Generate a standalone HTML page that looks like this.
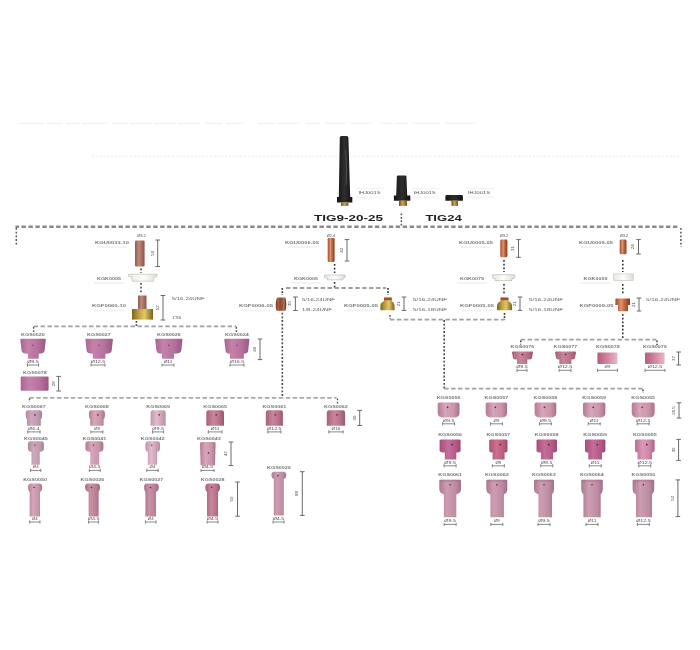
<!DOCTYPE html>
<html><head><meta charset="utf-8"><style>
html,body{margin:0;padding:0;background:#fff;width:700px;height:650px;overflow:hidden}
svg{display:block;font-family:"Liberation Sans",sans-serif;filter:blur(0.35px)}
</style></head><body><svg width="700" height="650" viewBox="0 0 700 650" font-family="Liberation Sans, sans-serif">
<defs>
<linearGradient id="pink" x1="0" x2="1" y1="0" y2="0">
 <stop offset="0" stop-color="#aa6494"/><stop offset="0.3" stop-color="#c482aa"/><stop offset="0.7" stop-color="#b6709c"/><stop offset="1" stop-color="#985886"/>
</linearGradient>
<linearGradient id="pinkL" x1="0" x2="1" y1="0" y2="0">
 <stop offset="0" stop-color="#c494ac"/><stop offset="0.4" stop-color="#e0bccc"/><stop offset="1" stop-color="#bc8ca4"/>
</linearGradient>
<linearGradient id="pinkM" x1="0" x2="1" y1="0" y2="0">
 <stop offset="0" stop-color="#aa6e88"/><stop offset="0.35" stop-color="#c892a6"/><stop offset="0.75" stop-color="#ba7e96"/><stop offset="1" stop-color="#9c6680"/>
</linearGradient>
<linearGradient id="mag" x1="0" x2="1" y1="0" y2="0">
 <stop offset="0" stop-color="#a84c7c"/><stop offset="0.4" stop-color="#c46e9a"/><stop offset="0.75" stop-color="#b65a88"/><stop offset="1" stop-color="#9a4a74"/>
</linearGradient>
<linearGradient id="rose" x1="0" x2="1" y1="0" y2="0">
 <stop offset="0" stop-color="#a86078"/><stop offset="0.4" stop-color="#c8869a"/><stop offset="0.75" stop-color="#b87088"/><stop offset="1" stop-color="#985670"/>
</linearGradient>
<linearGradient id="mauve" x1="0" x2="1" y1="0" y2="0">
 <stop offset="0" stop-color="#ae7890"/><stop offset="0.35" stop-color="#cc9eb2"/><stop offset="0.75" stop-color="#be8ca2"/><stop offset="1" stop-color="#a0708a"/>
</linearGradient>
<linearGradient id="pinkD" x1="0" x2="1" y1="0" y2="0">
 <stop offset="0" stop-color="#b87894"/><stop offset="0.35" stop-color="#d6a6ba"/><stop offset="0.75" stop-color="#c894aa"/><stop offset="1" stop-color="#a8708a"/>
</linearGradient>
<linearGradient id="lav" x1="0" x2="1" y1="0" y2="0">
 <stop offset="0" stop-color="#b08aa2"/><stop offset="0.35" stop-color="#cca8bc"/><stop offset="0.75" stop-color="#c09ab0"/><stop offset="1" stop-color="#a27e96"/>
</linearGradient>
<linearGradient id="magR" x1="0" x2="1" y1="0" y2="0">
 <stop offset="0" stop-color="#b0506e"/><stop offset="0.4" stop-color="#cc7090"/><stop offset="0.75" stop-color="#bc5c7e"/><stop offset="1" stop-color="#a04a68"/>
</linearGradient>
<linearGradient id="magL" x1="0" x2="1" y1="0" y2="0">
 <stop offset="0" stop-color="#bc6c94"/><stop offset="0.4" stop-color="#dc98b8"/><stop offset="0.75" stop-color="#cc84a8"/><stop offset="1" stop-color="#ac6088"/>
</linearGradient>
<linearGradient id="rosy" x1="0" x2="1" y1="0" y2="0">
 <stop offset="0" stop-color="#b45c7a"/><stop offset="0.55" stop-color="#d48aa2"/><stop offset="1" stop-color="#e8b6c6"/>
</linearGradient>
<linearGradient id="copper" x1="0" x2="1" y1="0" y2="0">
 <stop offset="0" stop-color="#9a4c2c"/><stop offset="0.4" stop-color="#e0946a"/><stop offset="0.6" stop-color="#c46c44"/><stop offset="1" stop-color="#843c20"/>
</linearGradient>
<linearGradient id="copperD" x1="0" x2="1" y1="0" y2="0">
 <stop offset="0" stop-color="#7a3c24"/><stop offset="0.3" stop-color="#b06848"/><stop offset="0.5" stop-color="#8a4830"/><stop offset="0.7" stop-color="#c07858"/><stop offset="1" stop-color="#70361e"/>
</linearGradient>
<linearGradient id="copperP" x1="0" x2="1" y1="0" y2="0">
 <stop offset="0" stop-color="#8e5a50"/><stop offset="0.4" stop-color="#c0887a"/><stop offset="1" stop-color="#8a5448"/>
</linearGradient>
<linearGradient id="brass" x1="0" x2="1" y1="0" y2="0">
 <stop offset="0" stop-color="#806420"/><stop offset="0.35" stop-color="#c4a444"/><stop offset="0.6" stop-color="#e0c868"/><stop offset="1" stop-color="#806018"/>
</linearGradient>
<linearGradient id="tip" x1="0" x2="1" y1="0" y2="0">
 <stop offset="0" stop-color="#7a4a18"/><stop offset="0.45" stop-color="#d8a050"/><stop offset="1" stop-color="#805018"/>
</linearGradient>
<linearGradient id="black" x1="0" x2="1" y1="0" y2="0">
 <stop offset="0" stop-color="#141414"/><stop offset="0.5" stop-color="#2e2e2e"/><stop offset="1" stop-color="#121212"/>
</linearGradient>
<linearGradient id="white" x1="0" x2="1" y1="0" y2="0">
 <stop offset="0" stop-color="#e6e6e0"/><stop offset="0.5" stop-color="#fdfdfb"/><stop offset="1" stop-color="#deded8"/>
</linearGradient>
</defs>
<line x1="19" y1="123.4" x2="44" y2="123.4" stroke="#f4f4f4" stroke-width="1.8"/>
<line x1="47" y1="123.4" x2="63" y2="123.4" stroke="#f4f4f4" stroke-width="1.8"/>
<line x1="66" y1="123.4" x2="80" y2="123.4" stroke="#f4f4f4" stroke-width="1.8"/>
<line x1="82" y1="123.4" x2="108" y2="123.4" stroke="#f4f4f4" stroke-width="1.8"/>
<line x1="112" y1="123.4" x2="128" y2="123.4" stroke="#f4f4f4" stroke-width="1.8"/>
<line x1="130" y1="123.4" x2="152" y2="123.4" stroke="#f4f4f4" stroke-width="1.8"/>
<line x1="154" y1="123.4" x2="176" y2="123.4" stroke="#f4f4f4" stroke-width="1.8"/>
<line x1="178" y1="123.4" x2="200" y2="123.4" stroke="#f4f4f4" stroke-width="1.8"/>
<line x1="205" y1="123.4" x2="222" y2="123.4" stroke="#f4f4f4" stroke-width="1.8"/>
<line x1="226" y1="123.4" x2="244" y2="123.4" stroke="#f4f4f4" stroke-width="1.8"/>
<line x1="258" y1="123.4" x2="275" y2="123.4" stroke="#f4f4f4" stroke-width="1.8"/>
<line x1="278" y1="123.4" x2="300" y2="123.4" stroke="#f4f4f4" stroke-width="1.8"/>
<line x1="305" y1="123.4" x2="320" y2="123.4" stroke="#f4f4f4" stroke-width="1.8"/>
<line x1="325" y1="123.4" x2="345" y2="123.4" stroke="#f4f4f4" stroke-width="1.8"/>
<line x1="350" y1="123.4" x2="372" y2="123.4" stroke="#f4f4f4" stroke-width="1.8"/>
<line x1="380" y1="123.4" x2="392" y2="123.4" stroke="#f4f4f4" stroke-width="1.8"/>
<line x1="395" y1="123.4" x2="408" y2="123.4" stroke="#f4f4f4" stroke-width="1.8"/>
<line x1="412" y1="123.4" x2="440" y2="123.4" stroke="#f4f4f4" stroke-width="1.8"/>
<line x1="445" y1="123.4" x2="476" y2="123.4" stroke="#f4f4f4" stroke-width="1.8"/>
<line x1="92" y1="156.3" x2="679" y2="156.3" stroke="#f3f3f3" stroke-width="1.8" stroke-dasharray="2.2 1.6" stroke-dashoffset="0"/>
<path d="M339.8 137.5Q339.8 136 341.5 136H346.7Q348.4 136 348.4 137.5L350.2 197H352.3V202.6H337V197H338.8Z" fill="url(#black)"/>
<path d="M345.6 150Q347 165 346.2 185" stroke="#707070" stroke-width="1" fill="none" opacity="0.55"/>
<rect x="341" y="202.6" width="7.4" height="3.3" fill="url(#tip)"/>
<path d="M396.9 176Q396.9 175.4 398 175.4H405.3Q406.4 175.4 406.4 176L407.2 195.4H410.3V200.7H393.9V195.4H396.2Z" fill="url(#black)"/>
<rect x="399" y="200.7" width="8" height="5.2" fill="url(#tip)"/>
<path d="M446.5 195H461.8Q462.9 195 462.9 196.5V200.7H445.4V196.5Q445.4 195 446.5 195Z" fill="url(#black)"/>
<rect x="451.5" y="200.7" width="6.5" height="5.2" fill="url(#tip)"/>
<text x="358.5" y="193.8" font-size="4.2" fill="#555" text-anchor="start" font-weight="normal" textLength="22" lengthAdjust="spacingAndGlyphs">IHJ001S</text>
<line x1="356.5" y1="188.5" x2="384.5" y2="188.5" stroke="#f5f5f5" stroke-width="1.8"/>
<line x1="356.5" y1="197.5" x2="384.5" y2="197.5" stroke="#f5f5f5" stroke-width="1.8"/>
<text x="413.6" y="193.8" font-size="4.2" fill="#555" text-anchor="start" font-weight="normal" textLength="22" lengthAdjust="spacingAndGlyphs">IHJ001S</text>
<line x1="411.6" y1="188.5" x2="439.6" y2="188.5" stroke="#f5f5f5" stroke-width="1.8"/>
<line x1="411.6" y1="197.5" x2="439.6" y2="197.5" stroke="#f5f5f5" stroke-width="1.8"/>
<text x="468" y="193.8" font-size="4.2" fill="#555" text-anchor="start" font-weight="normal" textLength="22" lengthAdjust="spacingAndGlyphs">IHJ001S</text>
<line x1="466" y1="188.5" x2="494" y2="188.5" stroke="#f5f5f5" stroke-width="1.8"/>
<line x1="466" y1="197.5" x2="494" y2="197.5" stroke="#f5f5f5" stroke-width="1.8"/>
<text x="314" y="220.6" font-size="8.3" fill="#222" text-anchor="start" font-weight="bold" textLength="69" lengthAdjust="spacingAndGlyphs">TIG9-20-25</text>
<text x="425.4" y="220.6" font-size="8.3" fill="#222" text-anchor="start" font-weight="bold" textLength="36.3" lengthAdjust="spacingAndGlyphs">TIG24</text>
<line x1="401.4" y1="213.5" x2="401.4" y2="226" stroke="#555" stroke-width="1.5" stroke-dasharray="1.8 1.6"/>
<line x1="15.4" y1="226.7" x2="679" y2="226.7" stroke="#8a8a8a" stroke-width="2.4" stroke-dasharray="4.4 2.53" stroke-dashoffset="0.8"/>
<line x1="16.3" y1="228" x2="16.3" y2="246" stroke="#555" stroke-width="1.5" stroke-dasharray="1.8 1.9"/>
<line x1="680.9" y1="228" x2="680.9" y2="247" stroke="#555" stroke-width="1.5" stroke-dasharray="1.8 1.9"/>
<text x="112" y="243.5" font-size="3.9" fill="#787878" text-anchor="middle" font-weight="bold" textLength="34.0" lengthAdjust="spacingAndGlyphs">KGU0033-10</text>
<line x1="97" y1="247.0" x2="127" y2="247.0" stroke="#f2f2f2" stroke-width="1.8"/>
<text x="141.5" y="237.3" font-size="4.0" fill="#505050" text-anchor="middle" font-weight="normal" >Ø3.2</text>
<rect rx="1.3" x="135" y="240.4" width="9.6" height="26.1" fill="url(#copperP)"/>
<path d="M155.39999999999998 240H160.0M157.7 240V266.5M155.39999999999998 266.5H160.0" stroke="#6a6a6a" stroke-width="1" fill="none"/>
<text x="152.2" y="253.25" font-size="4.4" fill="#505050" text-anchor="middle" transform="rotate(-90 152.2 253.25)" dy="1.5">50</text>
<text x="109" y="279.5" font-size="3.9" fill="#787878" text-anchor="middle" font-weight="bold" textLength="23.8" lengthAdjust="spacingAndGlyphs">KGK0005</text>
<line x1="94" y1="283.0" x2="124" y2="283.0" stroke="#f2f2f2" stroke-width="1.8"/>
<path d="M128.6 274.2H157Q157.4 275.5 156.6 277H153.7V281.2H131.9V277H129Q128.2 275.5 128.6 274.2Z" fill="url(#white)" stroke="#bcbcb4" stroke-width="0.6"/>
<line x1="141" y1="268.5" x2="141" y2="273" stroke="#444" stroke-width="1.6" stroke-dasharray="1.8 1.9"/>
<line x1="141" y1="283" x2="141" y2="294" stroke="#444" stroke-width="1.6" stroke-dasharray="1.8 1.9"/>
<text x="109" y="307" font-size="3.9" fill="#787878" text-anchor="middle" font-weight="bold" textLength="34.0" lengthAdjust="spacingAndGlyphs">KGF0060-10</text>
<line x1="94" y1="310.5" x2="124" y2="310.5" stroke="#f2f2f2" stroke-width="1.8"/>
<rect x="138" y="295.5" width="8.5" height="13.5" fill="url(#copperP)"/>
<rect x="132" y="309" width="21" height="10.6" fill="url(#brass)"/>
<path d="M160.7 295.5H165.3M163 295.5V320M160.7 320H165.3" stroke="#6a6a6a" stroke-width="1" fill="none"/>
<text x="157.5" y="307.75" font-size="4.4" fill="#505050" text-anchor="middle" transform="rotate(-90 157.5 307.75)" dy="1.5">52</text>
<text x="171.7" y="300.3" font-size="4.4" fill="#5a5a5a" text-anchor="start" font-weight="normal" textLength="33" lengthAdjust="spacingAndGlyphs">5/16-24UNF</text>
<text x="172" y="318.8" font-size="4.0" fill="#444" text-anchor="start" font-weight="normal" >1"/16</text>
<line x1="136.4" y1="321" x2="136.4" y2="326" stroke="#444" stroke-width="1.6" stroke-dasharray="1.8 1.5"/>
<line x1="33.6" y1="326.4" x2="236.4" y2="326.4" stroke="#a0a0a0" stroke-width="1.8" stroke-dasharray="4.4 2.53" stroke-dashoffset="0"/>
<line x1="33.6" y1="327" x2="33.6" y2="332" stroke="#555" stroke-width="1.4" stroke-dasharray="1.8 1.5"/>
<line x1="236.4" y1="327" x2="236.4" y2="332" stroke="#555" stroke-width="1.4" stroke-dasharray="1.8 1.5"/>
<path d="M20.3 339.6Q20.3 338.8 21.3 338.8H44.8Q45.8 338.8 45.8 339.6L44.599999999999994 350.5Q44.3 353.8 38.7 353.8V358.7H27.9V353.8Q21.8 353.8 21.5 350.5Z" fill="url(#pink)"/>
<circle cx="33.05" cy="345.15" r="0.7" fill="#6a3058"/>
<text x="33" y="335.8" font-size="3.9" fill="#787878" text-anchor="middle" font-weight="bold" textLength="23.8" lengthAdjust="spacingAndGlyphs">KGS0020</text>
<path d="M27.5 363.4V366.6M27.5 365H38.5M38.5 363.4V366.6" stroke="#606060" stroke-width="0.75" fill="none"/>
<text x="33.0" y="363.0" font-size="4.2" fill="#4a4a4a" text-anchor="middle" font-weight="normal" textLength="11.6" lengthAdjust="spacingAndGlyphs">Ø9.5</text>
<path d="M85.4 339.6Q85.4 338.8 86.4 338.8H111.9Q112.9 338.8 112.9 339.6L111.7 350.5Q111.4 353.8 105.4 353.8V358.7H92.9V353.8Q86.9 353.8 86.60000000000001 350.5Z" fill="url(#pink)"/>
<circle cx="99.15" cy="345.15" r="0.7" fill="#6a3058"/>
<text x="99" y="335.8" font-size="3.9" fill="#787878" text-anchor="middle" font-weight="bold" textLength="23.8" lengthAdjust="spacingAndGlyphs">KGS0027</text>
<path d="M91 363.4V366.6M91 365H105M105 363.4V366.6" stroke="#606060" stroke-width="0.75" fill="none"/>
<text x="98.0" y="363.0" font-size="4.2" fill="#4a4a4a" text-anchor="middle" font-weight="normal" textLength="14.5" lengthAdjust="spacingAndGlyphs">Ø12.5</text>
<path d="M155.2 339.6Q155.2 338.8 156.2 338.8H181.5Q182.5 338.8 182.5 339.6L181.3 350.5Q181.0 353.8 174 353.8V358.7H162V353.8Q156.7 353.8 156.39999999999998 350.5Z" fill="url(#pink)"/>
<circle cx="168.85" cy="345.15" r="0.7" fill="#6a3058"/>
<text x="169" y="335.8" font-size="3.9" fill="#787878" text-anchor="middle" font-weight="bold" textLength="23.8" lengthAdjust="spacingAndGlyphs">KGS0026</text>
<path d="M162 363.4V366.6M162 365H174M174 363.4V366.6" stroke="#606060" stroke-width="0.75" fill="none"/>
<text x="168.0" y="363.0" font-size="4.2" fill="#4a4a4a" text-anchor="middle" font-weight="normal" textLength="8.7" lengthAdjust="spacingAndGlyphs">Ø11</text>
<path d="M224.3 339.6Q224.3 338.8 225.3 338.8H248.4Q249.4 338.8 249.4 339.6L248.20000000000002 350.5Q247.9 353.8 243.8 353.8V358.7H230V353.8Q225.8 353.8 225.5 350.5Z" fill="url(#pink)"/>
<circle cx="236.85000000000002" cy="345.15" r="0.7" fill="#6a3058"/>
<text x="237" y="335.8" font-size="3.9" fill="#787878" text-anchor="middle" font-weight="bold" textLength="23.8" lengthAdjust="spacingAndGlyphs">KGS0024</text>
<path d="M230 363.4V366.6M230 365H244M244 363.4V366.6" stroke="#606060" stroke-width="0.75" fill="none"/>
<text x="237.0" y="363.0" font-size="4.2" fill="#4a4a4a" text-anchor="middle" font-weight="normal" textLength="14.5" lengthAdjust="spacingAndGlyphs">Ø16.5</text>
<path d="M257.7 339H262.3M260 339V359.6M257.7 359.6H262.3" stroke="#6a6a6a" stroke-width="1" fill="none"/>
<text x="254.5" y="349.3" font-size="4.4" fill="#505050" text-anchor="middle" transform="rotate(-90 254.5 349.3)" dy="1.5">40</text>
<path d="M20.7 377.5Q20.7 376.4 22 376.4H47.3Q48.6 376.4 48.6 377.5V389.5Q48.6 390.7 47.3 390.7H22Q20.7 390.7 20.7 389.5Z" fill="url(#pink)"/>
<text x="35" y="374.3" font-size="3.9" fill="#787878" text-anchor="middle" font-weight="bold" textLength="23.8" lengthAdjust="spacingAndGlyphs">KGS0078</text>
<path d="M56.300000000000004 376.4H60.9M58.6 376.4V391M56.300000000000004 391H60.9" stroke="#6a6a6a" stroke-width="1" fill="none"/>
<text x="53.1" y="383.7" font-size="4.4" fill="#505050" text-anchor="middle" transform="rotate(-90 53.1 383.7)" dy="1.5">28</text>
<line x1="29.3" y1="397.9" x2="336.6" y2="397.9" stroke="#a8a8a8" stroke-width="1.7" stroke-dasharray="4.4 2.53" stroke-dashoffset="0"/>
<line x1="29.5" y1="398.5" x2="29.5" y2="402" stroke="#555" stroke-width="1.4" stroke-dasharray="1.8 1.5"/>
<line x1="337.5" y1="398.5" x2="337.5" y2="404" stroke="#555" stroke-width="1.4" stroke-dasharray="1.8 1.5"/>
<line x1="282.3" y1="312.7" x2="282.3" y2="396.5" stroke="#4a4a4a" stroke-width="1.6" stroke-dasharray="1.9 1.8"/>
<text x="302" y="243.5" font-size="3.9" fill="#787878" text-anchor="middle" font-weight="bold" textLength="34.0" lengthAdjust="spacingAndGlyphs">KGU0006-05</text>
<line x1="287" y1="247.0" x2="317" y2="247.0" stroke="#f2f2f2" stroke-width="1.8"/>
<text x="331" y="236.8" font-size="4.0" fill="#505050" text-anchor="middle" font-weight="normal" >Ø2.4</text>
<rect rx="1.3" x="327.7" y="238" width="6.9" height="24" fill="url(#copper)"/>
<path d="M344.7 239.6H349.3M347 239.6V261M344.7 261H349.3" stroke="#6a6a6a" stroke-width="1" fill="none"/>
<text x="341.5" y="250.3" font-size="4.4" fill="#505050" text-anchor="middle" transform="rotate(-90 341.5 250.3)" dy="1.5">42</text>
<text x="306" y="279.5" font-size="3.9" fill="#787878" text-anchor="middle" font-weight="bold" textLength="23.8" lengthAdjust="spacingAndGlyphs">KGK0005</text>
<line x1="291" y1="283.0" x2="321" y2="283.0" stroke="#f2f2f2" stroke-width="1.8"/>
<path d="M324.5 275H345Q345.6 276.5 344.6 278H343V279.8H327.5V278H325Q324 276.5 324.5 275Z" fill="url(#white)" stroke="#b4b4ac" stroke-width="0.6"/>
<line x1="334.6" y1="264" x2="334.6" y2="273" stroke="#333" stroke-width="1.6" stroke-dasharray="1.8 1.9"/>
<line x1="334.6" y1="282" x2="334.6" y2="288" stroke="#333" stroke-width="1.6" stroke-dasharray="1.8 1.9"/>
<line x1="286" y1="288" x2="386" y2="288" stroke="#a0a0a0" stroke-width="1.8" stroke-dasharray="4.4 2.53" stroke-dashoffset="0"/>
<line x1="282.3" y1="288" x2="282.3" y2="295" stroke="#333" stroke-width="1.6" stroke-dasharray="1.8 1.5"/>
<line x1="388" y1="288" x2="388" y2="295" stroke="#333" stroke-width="1.6" stroke-dasharray="1.8 1.5"/>
<text x="256" y="307" font-size="3.9" fill="#787878" text-anchor="middle" font-weight="bold" textLength="34.0" lengthAdjust="spacingAndGlyphs">KGF0006-05</text>
<line x1="241" y1="310.5" x2="271" y2="310.5" stroke="#f2f2f2" stroke-width="1.8"/>
<path d="M277.3 297.4H285.2Q286.5 300 286.3 304Q286.5 308 285.4 310.8H276.6Q275.5 308 275.7 304Q275.5 300 277.3 297.4Z" fill="url(#copperD)"/>
<path d="M279.5 298V310.5M282.5 298V310.5" stroke="#6a3420" stroke-width="0.6" opacity="0.6"/>
<path d="M293.09999999999997 297H297.7M295.4 297V310.5M293.09999999999997 310.5H297.7" stroke="#6a6a6a" stroke-width="1" fill="none"/>
<text x="289.9" y="303.75" font-size="4.4" fill="#505050" text-anchor="middle" transform="rotate(-90 289.9 303.75)" dy="1.5">30</text>
<text x="302" y="300.5" font-size="4.4" fill="#5a5a5a" text-anchor="start" font-weight="normal" textLength="33" lengthAdjust="spacingAndGlyphs">5/16-24UNF</text>
<text x="302" y="310.5" font-size="4.4" fill="#5a5a5a" text-anchor="start" font-weight="normal" textLength="30" lengthAdjust="spacingAndGlyphs">1/8-24UNF</text>
<text x="361" y="307" font-size="3.9" fill="#787878" text-anchor="middle" font-weight="bold" textLength="34.0" lengthAdjust="spacingAndGlyphs">KGF0005-05</text>
<line x1="346" y1="310.5" x2="376" y2="310.5" stroke="#f2f2f2" stroke-width="1.8"/>
<path d="M384 297.6H391.7V301Q394.5 302.5 394.5 306V310.3H380.4V306Q380.4 302.5 384 301Z" fill="url(#brass)"/>
<rect x="384" y="297.6" width="7.7" height="2.6" fill="#a84a28"/>
<path d="M401.7 297H406.3M404 297V310.4M401.7 310.4H406.3" stroke="#6a6a6a" stroke-width="1" fill="none"/>
<text x="398.5" y="303.7" font-size="4.4" fill="#505050" text-anchor="middle" transform="rotate(-90 398.5 303.7)" dy="1.5">21</text>
<text x="413" y="300.5" font-size="4.4" fill="#5a5a5a" text-anchor="start" font-weight="normal" textLength="34" lengthAdjust="spacingAndGlyphs">5/16-24UNF</text>
<text x="413" y="310.5" font-size="4.4" fill="#5a5a5a" text-anchor="start" font-weight="normal" textLength="34" lengthAdjust="spacingAndGlyphs">5/16-18UNF</text>
<text x="476" y="243.5" font-size="3.9" fill="#787878" text-anchor="middle" font-weight="bold" textLength="34.0" lengthAdjust="spacingAndGlyphs">KGU0005-05</text>
<line x1="461" y1="247.0" x2="491" y2="247.0" stroke="#f2f2f2" stroke-width="1.8"/>
<text x="504" y="237.3" font-size="4.0" fill="#505050" text-anchor="middle" font-weight="normal" >Ø3.2</text>
<rect rx="1.3" x="500.3" y="239.6" width="7.1" height="17.7" fill="url(#copper)"/>
<path d="M516.2 239.6H520.8M518.5 239.6V257.3M516.2 257.3H520.8" stroke="#6a6a6a" stroke-width="1" fill="none"/>
<text x="513.0" y="248.45" font-size="4.4" fill="#505050" text-anchor="middle" transform="rotate(-90 513.0 248.45)" dy="1.5">31</text>
<text x="472" y="279.5" font-size="3.9" fill="#787878" text-anchor="middle" font-weight="bold" textLength="23.8" lengthAdjust="spacingAndGlyphs">KGK0079</text>
<line x1="457" y1="283.0" x2="487" y2="283.0" stroke="#f2f2f2" stroke-width="1.8"/>
<path d="M492.5 274.7H514.5Q515.2 276.5 514 278.5H512V280.5H495V278.5H493Q491.8 276.5 492.5 274.7Z" fill="url(#white)" stroke="#b4b4ac" stroke-width="0.6"/>
<line x1="504" y1="260" x2="504" y2="272" stroke="#333" stroke-width="1.6" stroke-dasharray="1.8 1.9"/>
<line x1="504" y1="284" x2="504" y2="295" stroke="#333" stroke-width="1.6" stroke-dasharray="1.8 1.9"/>
<text x="477" y="307" font-size="3.9" fill="#787878" text-anchor="middle" font-weight="bold" textLength="34.0" lengthAdjust="spacingAndGlyphs">KGF0005-05</text>
<line x1="462" y1="310.5" x2="492" y2="310.5" stroke="#f2f2f2" stroke-width="1.8"/>
<path d="M500.6 297.6H508.4V301Q512 302.5 512 306V310.3H497V306Q497 302.5 500.6 301Z" fill="url(#brass)"/>
<rect x="500.6" y="297.6" width="7.8" height="2.6" fill="#a84a28"/>
<path d="M517.7 297H522.3M520 297V310.4M517.7 310.4H522.3" stroke="#6a6a6a" stroke-width="1" fill="none"/>
<text x="514.5" y="303.7" font-size="4.4" fill="#505050" text-anchor="middle" transform="rotate(-90 514.5 303.7)" dy="1.5">21</text>
<text x="529" y="300.5" font-size="4.4" fill="#5a5a5a" text-anchor="start" font-weight="normal" textLength="34" lengthAdjust="spacingAndGlyphs">5/16-24UNF</text>
<text x="529" y="310.5" font-size="4.4" fill="#5a5a5a" text-anchor="start" font-weight="normal" textLength="34" lengthAdjust="spacingAndGlyphs">5/16-18UNF</text>
<line x1="504.5" y1="313" x2="504.5" y2="320" stroke="#333" stroke-width="1.6" stroke-dasharray="1.8 1.5"/>
<line x1="390" y1="319.6" x2="504.5" y2="319.6" stroke="#a0a0a0" stroke-width="1.8" stroke-dasharray="4.4 2.53" stroke-dashoffset="0"/>
<line x1="390" y1="315" x2="390" y2="319" stroke="#444" stroke-width="1.4" stroke-dasharray="1.8 1.5"/>
<line x1="444.2" y1="320" x2="444.2" y2="390" stroke="#4a4a4a" stroke-width="1.6" stroke-dasharray="1.9 1.8"/>
<text x="596" y="243.5" font-size="3.9" fill="#787878" text-anchor="middle" font-weight="bold" textLength="34.0" lengthAdjust="spacingAndGlyphs">KGU0009-05</text>
<line x1="581" y1="247.0" x2="611" y2="247.0" stroke="#f2f2f2" stroke-width="1.8"/>
<text x="624" y="236.5" font-size="4.0" fill="#505050" text-anchor="middle" font-weight="normal" >Ø3.2</text>
<rect rx="1.3" x="619.7" y="239.6" width="6.8" height="14.6" fill="url(#copper)"/>
<path d="M636.2 239.6H640.8M638.5 239.6V254M636.2 254H640.8" stroke="#6a6a6a" stroke-width="1" fill="none"/>
<text x="633.0" y="246.8" font-size="4.4" fill="#505050" text-anchor="middle" transform="rotate(-90 633.0 246.8)" dy="1.5">24</text>
<text x="595.5" y="279.5" font-size="3.9" fill="#787878" text-anchor="middle" font-weight="bold" textLength="23.8" lengthAdjust="spacingAndGlyphs">KGK0009</text>
<line x1="580.5" y1="283.0" x2="610.5" y2="283.0" stroke="#f2f2f2" stroke-width="1.8"/>
<rect x="613.7" y="273.9" width="19.6" height="6.8" fill="url(#white)" stroke="#c4c4bc" stroke-width="0.6"/>
<line x1="622.8" y1="260" x2="622.8" y2="272" stroke="#333" stroke-width="1.6" stroke-dasharray="1.8 1.9"/>
<line x1="622.8" y1="284" x2="622.8" y2="295" stroke="#333" stroke-width="1.6" stroke-dasharray="1.8 1.9"/>
<text x="596.5" y="307" font-size="3.9" fill="#787878" text-anchor="middle" font-weight="bold" textLength="34.0" lengthAdjust="spacingAndGlyphs">KGF0009-05</text>
<line x1="581.5" y1="310.5" x2="611.5" y2="310.5" stroke="#f2f2f2" stroke-width="1.8"/>
<path d="M616 298.5H629.6Q630 298.5 630 299V305H628V311.2H618V305H615.4V299Q615.4 298.5 616 298.5Z" fill="url(#copper)"/>
<path d="M636.7 298H641.3M639 298V311M636.7 311H641.3" stroke="#6a6a6a" stroke-width="1" fill="none"/>
<text x="633.5" y="304.5" font-size="4.4" fill="#505050" text-anchor="middle" transform="rotate(-90 633.5 304.5)" dy="1.5">21</text>
<text x="646" y="300.5" font-size="4.4" fill="#5a5a5a" text-anchor="start" font-weight="normal" textLength="34" lengthAdjust="spacingAndGlyphs">5/16-24UNF</text>
<line x1="622.8" y1="314" x2="622.8" y2="339" stroke="#333" stroke-width="1.6" stroke-dasharray="1.8 1.9"/>
<line x1="520.7" y1="339.7" x2="656.4" y2="339.7" stroke="#a0a0a0" stroke-width="1.8" stroke-dasharray="4.4 2.53" stroke-dashoffset="0"/>
<line x1="520.7" y1="340.5" x2="520.7" y2="344.5" stroke="#333" stroke-width="1.4" stroke-dasharray="1.8 1.5"/>
<line x1="657" y1="340.5" x2="657" y2="345" stroke="#333" stroke-width="1.4" stroke-dasharray="1.8 1.5"/>
<path d="M512.9 351.6H532Q533 351.6 533 352.6L531.8 358.5Q531.5 359.5 527.3 359.5V364H517V359.5Q513.4 359.5 513.1 358.5L511.9 352.6Q511.9 351.6 512.9 351.6Z" fill="url(#rose)"/>
<circle cx="522.45" cy="354.6" r="0.8" fill="#5a2040"/>
<text x="522.5" y="348" font-size="3.9" fill="#787878" text-anchor="middle" font-weight="bold" textLength="23.8" lengthAdjust="spacingAndGlyphs">KGS0076</text>
<path d="M517 368.7V371.90000000000003M517 370.3H527M527 368.7V371.90000000000003" stroke="#606060" stroke-width="0.75" fill="none"/>
<text x="522.0" y="368.3" font-size="4.2" fill="#4a4a4a" text-anchor="middle" font-weight="normal" textLength="11.6" lengthAdjust="spacingAndGlyphs">Ø9.5</text>
<path d="M556 351.6H575Q576 351.6 576 352.6L574.8 358.5Q574.5 359.5 571.4 359.5V364H559.3V359.5Q556.5 359.5 556.2 358.5L555 352.6Q555 351.6 556 351.6Z" fill="url(#rose)"/>
<circle cx="565.5" cy="354.6" r="0.8" fill="#5a2040"/>
<text x="565.5" y="348" font-size="3.9" fill="#787878" text-anchor="middle" font-weight="bold" textLength="23.8" lengthAdjust="spacingAndGlyphs">KGS0077</text>
<path d="M559 368.7V371.90000000000003M559 370.3H571M571 368.7V371.90000000000003" stroke="#606060" stroke-width="0.75" fill="none"/>
<text x="565.0" y="368.3" font-size="4.2" fill="#4a4a4a" text-anchor="middle" font-weight="normal" textLength="14.5" lengthAdjust="spacingAndGlyphs">Ø12.5</text>
<rect x="597.4" y="352.6" width="20" height="11.4" rx="1" fill="url(#rosy)"/>
<text x="608" y="348" font-size="3.9" fill="#787878" text-anchor="middle" font-weight="bold" textLength="23.8" lengthAdjust="spacingAndGlyphs">KGS0078</text>
<path d="M597.5 368.7V371.90000000000003M597.5 370.3H617.5M617.5 368.7V371.90000000000003" stroke="#606060" stroke-width="0.75" fill="none"/>
<text x="607.5" y="368.3" font-size="4.2" fill="#4a4a4a" text-anchor="middle" font-weight="normal" textLength="5.8" lengthAdjust="spacingAndGlyphs">Ø9</text>
<rect x="645" y="352.6" width="19.6" height="11.4" rx="1" fill="url(#rosy)"/>
<text x="655" y="348" font-size="3.9" fill="#787878" text-anchor="middle" font-weight="bold" textLength="23.8" lengthAdjust="spacingAndGlyphs">KGS0079</text>
<path d="M645 368.7V371.90000000000003M645 370.3H665M665 368.7V371.90000000000003" stroke="#606060" stroke-width="0.75" fill="none"/>
<text x="655.0" y="368.3" font-size="4.2" fill="#4a4a4a" text-anchor="middle" font-weight="normal" textLength="14.5" lengthAdjust="spacingAndGlyphs">Ø12.5</text>
<path d="M676.3000000000001 352H680.9M678.6 352V365M676.3000000000001 365H680.9" stroke="#6a6a6a" stroke-width="1" fill="none"/>
<text x="673.1" y="358.5" font-size="4.4" fill="#505050" text-anchor="middle" transform="rotate(-90 673.1 358.5)" dy="1.5">37</text>
<line x1="444.2" y1="388.6" x2="643" y2="388.6" stroke="#a0a0a0" stroke-width="1.8" stroke-dasharray="4.4 2.53" stroke-dashoffset="0"/>
<line x1="643" y1="389.5" x2="643" y2="393" stroke="#333" stroke-width="1.4" stroke-dasharray="1.8 1.5"/>
<path d="M439.2 402.4H458.0Q459.5 402.4 459.5 403.9V412.5Q459.5 417.0 455.0 417.5H442.2Q437.7 417.0 437.7 412.5V403.9Q437.7 402.4 439.2 402.4Z" fill="url(#pinkD)"/>
<circle cx="447.6" cy="407.4" r="0.8" fill="#5a2048"/>
<text x="448.6" y="399" font-size="3.9" fill="#787878" text-anchor="middle" font-weight="bold" textLength="23.8" lengthAdjust="spacingAndGlyphs">KGS0056</text>
<path d="M442.6 422.2V425.40000000000003M442.6 423.8H454.6M454.6 422.2V425.40000000000003" stroke="#606060" stroke-width="0.75" fill="none"/>
<text x="448.6" y="421.8" font-size="4.2" fill="#4a4a4a" text-anchor="middle" font-weight="normal" textLength="11.6" lengthAdjust="spacingAndGlyphs">Ø9.5</text>
<path d="M487.2 402.4H505.6Q507.1 402.4 507.1 403.9V412.5Q507.1 417.0 502.6 417.5H490.2Q485.7 417.0 485.7 412.5V403.9Q485.7 402.4 487.2 402.4Z" fill="url(#pinkD)"/>
<circle cx="495.4" cy="407.4" r="0.8" fill="#5a2048"/>
<text x="496.4" y="399" font-size="3.9" fill="#787878" text-anchor="middle" font-weight="bold" textLength="23.8" lengthAdjust="spacingAndGlyphs">KGS0057</text>
<path d="M490.4 422.2V425.40000000000003M490.4 423.8H502.4M502.4 422.2V425.40000000000003" stroke="#606060" stroke-width="0.75" fill="none"/>
<text x="496.4" y="421.8" font-size="4.2" fill="#4a4a4a" text-anchor="middle" font-weight="normal" textLength="5.8" lengthAdjust="spacingAndGlyphs">Ø9</text>
<path d="M536.1 402.4H554.8Q556.3 402.4 556.3 403.9V412.5Q556.3 417.0 551.8 417.5H539.1Q534.6 417.0 534.6 412.5V403.9Q534.6 402.4 536.1 402.4Z" fill="url(#pinkD)"/>
<circle cx="544.45" cy="407.4" r="0.8" fill="#5a2048"/>
<text x="545.45" y="399" font-size="3.9" fill="#787878" text-anchor="middle" font-weight="bold" textLength="23.8" lengthAdjust="spacingAndGlyphs">KGS0058</text>
<path d="M539.45 422.2V425.40000000000003M539.45 423.8H551.45M551.45 422.2V425.40000000000003" stroke="#606060" stroke-width="0.75" fill="none"/>
<text x="545.45" y="421.8" font-size="4.2" fill="#4a4a4a" text-anchor="middle" font-weight="normal" textLength="11.6" lengthAdjust="spacingAndGlyphs">Ø9.5</text>
<path d="M584.5 402.4H603.9Q605.4 402.4 605.4 403.9V412.5Q605.4 417.0 600.9 417.5H587.5Q583 417.0 583 412.5V403.9Q583 402.4 584.5 402.4Z" fill="url(#pinkD)"/>
<circle cx="593.2" cy="407.4" r="0.8" fill="#5a2048"/>
<text x="594.2" y="399" font-size="3.9" fill="#787878" text-anchor="middle" font-weight="bold" textLength="23.8" lengthAdjust="spacingAndGlyphs">KGS0059</text>
<path d="M588.2 422.2V425.40000000000003M588.2 423.8H600.2M600.2 422.2V425.40000000000003" stroke="#606060" stroke-width="0.75" fill="none"/>
<text x="594.2" y="421.8" font-size="4.2" fill="#4a4a4a" text-anchor="middle" font-weight="normal" textLength="8.7" lengthAdjust="spacingAndGlyphs">Ø11</text>
<path d="M633.2 402.4H653.1Q654.6 402.4 654.6 403.9V412.5Q654.6 417.0 650.1 417.5H636.2Q631.7 417.0 631.7 412.5V403.9Q631.7 402.4 633.2 402.4Z" fill="url(#pinkD)"/>
<circle cx="642.1500000000001" cy="407.4" r="0.8" fill="#5a2048"/>
<text x="643.1500000000001" y="399" font-size="3.9" fill="#787878" text-anchor="middle" font-weight="bold" textLength="23.8" lengthAdjust="spacingAndGlyphs">KGS0055</text>
<path d="M637.1500000000001 422.2V425.40000000000003M637.1500000000001 423.8H649.1500000000001M649.1500000000001 422.2V425.40000000000003" stroke="#606060" stroke-width="0.75" fill="none"/>
<text x="643.1500000000001" y="421.8" font-size="4.2" fill="#4a4a4a" text-anchor="middle" font-weight="normal" textLength="14.5" lengthAdjust="spacingAndGlyphs">Ø12.5</text>
<path d="M676.7 402.8H681.3M679 402.8V418.1M676.7 418.1H681.3" stroke="#6a6a6a" stroke-width="1" fill="none"/>
<text x="673.5" y="410.45000000000005" font-size="4.4" fill="#505050" text-anchor="middle" transform="rotate(-90 673.5 410.45000000000005)" dy="1.5">26.5</text>
<path d="M439.6 440.6Q439.6 439.6 441.1 439.6H459.1Q460.6 439.6 460.6 440.6V450.5Q460.6 452.5 456.3 452.5V459.6H444.8V452.5Q439.6 452.5 439.6 450.5Z" fill="url(#mag)"/>
<circle cx="452.1" cy="444.6" r="0.9" fill="#5a2048"/>
<text x="450.1" y="436" font-size="3.9" fill="#787878" text-anchor="middle" font-weight="bold" textLength="23.8" lengthAdjust="spacingAndGlyphs">KGS0056</text>
<path d="M444.1 464.2V467.40000000000003M444.1 465.8H456.1M456.1 464.2V467.40000000000003" stroke="#606060" stroke-width="0.75" fill="none"/>
<text x="450.1" y="463.8" font-size="4.2" fill="#4a4a4a" text-anchor="middle" font-weight="normal" textLength="11.6" lengthAdjust="spacingAndGlyphs">Ø9.5</text>
<path d="M489.2 440.6Q489.2 439.6 490.7 439.6H506.0Q507.5 439.6 507.5 440.6V450.5Q507.5 452.5 504.6 452.5V459.6H492.6V452.5Q489.2 452.5 489.2 450.5Z" fill="url(#magR)"/>
<circle cx="500.35" cy="444.6" r="0.9" fill="#5a2048"/>
<text x="498.35" y="436" font-size="3.9" fill="#787878" text-anchor="middle" font-weight="bold" textLength="23.8" lengthAdjust="spacingAndGlyphs">KGS0057</text>
<path d="M492.35 464.2V467.40000000000003M492.35 465.8H504.35M504.35 464.2V467.40000000000003" stroke="#606060" stroke-width="0.75" fill="none"/>
<text x="498.35" y="463.8" font-size="4.2" fill="#4a4a4a" text-anchor="middle" font-weight="normal" textLength="5.8" lengthAdjust="spacingAndGlyphs">Ø9</text>
<path d="M536.5 440.6Q536.5 439.6 538.0 439.6H555.5Q557 439.6 557 440.6V450.5Q557 452.5 553 452.5V459.6H541V452.5Q536.5 452.5 536.5 450.5Z" fill="url(#mag)"/>
<circle cx="548.75" cy="444.6" r="0.9" fill="#5a2048"/>
<text x="546.75" y="436" font-size="3.9" fill="#787878" text-anchor="middle" font-weight="bold" textLength="23.8" lengthAdjust="spacingAndGlyphs">KGS0058</text>
<path d="M540.75 464.2V467.40000000000003M540.75 465.8H552.75M552.75 464.2V467.40000000000003" stroke="#606060" stroke-width="0.75" fill="none"/>
<text x="546.75" y="463.8" font-size="4.2" fill="#4a4a4a" text-anchor="middle" font-weight="normal" textLength="11.6" lengthAdjust="spacingAndGlyphs">Ø9.5</text>
<path d="M585 440.6Q585 439.6 586.5 439.6H603.9Q605.4 439.6 605.4 440.6V450.5Q605.4 452.5 602 452.5V459.6H588.3V452.5Q585 452.5 585 450.5Z" fill="url(#mag)"/>
<circle cx="597.2" cy="444.6" r="0.9" fill="#5a2048"/>
<text x="595.2" y="436" font-size="3.9" fill="#787878" text-anchor="middle" font-weight="bold" textLength="23.8" lengthAdjust="spacingAndGlyphs">KGS0059</text>
<path d="M589.2 464.2V467.40000000000003M589.2 465.8H601.2M601.2 464.2V467.40000000000003" stroke="#606060" stroke-width="0.75" fill="none"/>
<text x="595.2" y="463.8" font-size="4.2" fill="#4a4a4a" text-anchor="middle" font-weight="normal" textLength="8.7" lengthAdjust="spacingAndGlyphs">Ø11</text>
<path d="M635 440.6Q635 439.6 636.5 439.6H653.1Q654.6 439.6 654.6 440.6V450.5Q654.6 452.5 652 452.5V459.6H637.5V452.5Q635 452.5 635 450.5Z" fill="url(#magL)"/>
<circle cx="646.8" cy="444.6" r="0.9" fill="#5a2048"/>
<text x="644.8" y="436" font-size="3.9" fill="#787878" text-anchor="middle" font-weight="bold" textLength="23.8" lengthAdjust="spacingAndGlyphs">KGS0055</text>
<path d="M638.8 464.2V467.40000000000003M638.8 465.8H650.8M650.8 464.2V467.40000000000003" stroke="#606060" stroke-width="0.75" fill="none"/>
<text x="644.8" y="463.8" font-size="4.2" fill="#4a4a4a" text-anchor="middle" font-weight="normal" textLength="14.5" lengthAdjust="spacingAndGlyphs">Ø12.5</text>
<path d="M676.3000000000001 439.4H680.9M678.6 439.4V460.4M676.3000000000001 460.4H680.9" stroke="#6a6a6a" stroke-width="1" fill="none"/>
<text x="673.1" y="449.9" font-size="4.4" fill="#505050" text-anchor="middle" transform="rotate(-90 673.1 449.9)" dy="1.5">30</text>
<path d="M440.5 479.7H459.8Q461 479.7 461 481.2V489.3Q461 493.0 456.3 494.5V517.2H443.9V494.5Q439.3 493.0 439.3 489.3V481.2Q439.3 479.7 440.5 479.7Z" fill="url(#mauve)"/>
<rect x="439.3" y="479.7" width="21.69999999999999" height="2" fill="#9a6080" opacity="0.35"/>
<circle cx="450.15" cy="484.7" r="0.8" fill="#5a2048"/>
<text x="450.15" y="476.3" font-size="3.9" fill="#787878" text-anchor="middle" font-weight="bold" textLength="23.8" lengthAdjust="spacingAndGlyphs">KGS0061</text>
<path d="M444.15 522.8V526.0M444.15 524.4H456.15M456.15 522.8V526.0" stroke="#606060" stroke-width="0.75" fill="none"/>
<text x="450.15" y="522.4" font-size="4.2" fill="#4a4a4a" text-anchor="middle" font-weight="normal" textLength="11.6" lengthAdjust="spacingAndGlyphs">Ø9.5</text>
<path d="M487.5 479.7H506.1Q507.3 479.7 507.3 481.2V489.3Q507.3 493.0 503.9 494.5V517.2H490.4V494.5Q486.3 493.0 486.3 489.3V481.2Q486.3 479.7 487.5 479.7Z" fill="url(#mauve)"/>
<rect x="486.3" y="479.7" width="21.0" height="2" fill="#9a6080" opacity="0.35"/>
<circle cx="496.8" cy="484.7" r="0.8" fill="#5a2048"/>
<text x="496.8" y="476.3" font-size="3.9" fill="#787878" text-anchor="middle" font-weight="bold" textLength="23.8" lengthAdjust="spacingAndGlyphs">KGS0062</text>
<path d="M490.8 522.8V526.0M490.8 524.4H502.8M502.8 522.8V526.0" stroke="#606060" stroke-width="0.75" fill="none"/>
<text x="496.8" y="522.4" font-size="4.2" fill="#4a4a4a" text-anchor="middle" font-weight="normal" textLength="5.8" lengthAdjust="spacingAndGlyphs">Ø9</text>
<path d="M535.2 479.7H552.8Q554 479.7 554 481.2V489.3Q554 493.0 552 494.5V517.2H538.5V494.5Q534 493.0 534 489.3V481.2Q534 479.7 535.2 479.7Z" fill="url(#mauve)"/>
<rect x="534" y="479.7" width="20" height="2" fill="#9a6080" opacity="0.35"/>
<circle cx="544.0" cy="484.7" r="0.8" fill="#5a2048"/>
<text x="544.0" y="476.3" font-size="3.9" fill="#787878" text-anchor="middle" font-weight="bold" textLength="23.8" lengthAdjust="spacingAndGlyphs">KGS0063</text>
<path d="M538.0 522.8V526.0M538.0 524.4H550.0M550.0 522.8V526.0" stroke="#606060" stroke-width="0.75" fill="none"/>
<text x="544.0" y="522.4" font-size="4.2" fill="#4a4a4a" text-anchor="middle" font-weight="normal" textLength="11.6" lengthAdjust="spacingAndGlyphs">Ø9.5</text>
<path d="M582.4000000000001 479.7H601.5999999999999Q602.8 479.7 602.8 481.2V489.3Q602.8 493.0 600.7 494.5V517.2H583.4V494.5Q581.2 493.0 581.2 489.3V481.2Q581.2 479.7 582.4000000000001 479.7Z" fill="url(#mauve)"/>
<rect x="581.2" y="479.7" width="21.59999999999991" height="2" fill="#9a6080" opacity="0.35"/>
<circle cx="592.0" cy="484.7" r="0.8" fill="#5a2048"/>
<text x="592.0" y="476.3" font-size="3.9" fill="#787878" text-anchor="middle" font-weight="bold" textLength="23.8" lengthAdjust="spacingAndGlyphs">KGS0064</text>
<path d="M586.0 522.8V526.0M586.0 524.4H598.0M598.0 522.8V526.0" stroke="#606060" stroke-width="0.75" fill="none"/>
<text x="592.0" y="522.4" font-size="4.2" fill="#4a4a4a" text-anchor="middle" font-weight="normal" textLength="8.7" lengthAdjust="spacingAndGlyphs">Ø11</text>
<path d="M633.8000000000001 479.7H653.0Q654.2 479.7 654.2 481.2V489.3Q654.2 493.0 652 494.5V517.2H636V494.5Q632.6 493.0 632.6 489.3V481.2Q632.6 479.7 633.8000000000001 479.7Z" fill="url(#mauve)"/>
<rect x="632.6" y="479.7" width="21.600000000000023" height="2" fill="#9a6080" opacity="0.35"/>
<circle cx="643.4000000000001" cy="484.7" r="0.8" fill="#5a2048"/>
<text x="643.4000000000001" y="476.3" font-size="3.9" fill="#787878" text-anchor="middle" font-weight="bold" textLength="23.8" lengthAdjust="spacingAndGlyphs">KGS0050</text>
<path d="M637.4000000000001 522.8V526.0M637.4000000000001 524.4H649.4000000000001M649.4000000000001 522.8V526.0" stroke="#606060" stroke-width="0.75" fill="none"/>
<text x="643.4000000000001" y="522.4" font-size="4.2" fill="#4a4a4a" text-anchor="middle" font-weight="normal" textLength="14.5" lengthAdjust="spacingAndGlyphs">Ø12.5</text>
<path d="M675.6 479.9H680.1999999999999M677.9 479.9V516.6M675.6 516.6H680.1999999999999" stroke="#6a6a6a" stroke-width="1" fill="none"/>
<text x="672.4" y="498.25" font-size="4.4" fill="#505050" text-anchor="middle" transform="rotate(-90 672.4 498.25)" dy="1.5">52</text>
<path d="M28.2 410.3H39.6Q42.1 410.3 42.1 413.3V415.3Q42.1 418.3 40.800000000000004 419.3V425.7H27.0V419.3Q25.7 418.3 25.7 415.3V413.3Q25.7 410.3 28.2 410.3Z" fill="url(#lav)"/>
<circle cx="34.9" cy="414.8" r="0.9" fill="#6a3058"/>
<text x="33.9" y="407.5" font-size="3.9" fill="#787878" text-anchor="middle" font-weight="bold" textLength="23.8" lengthAdjust="spacingAndGlyphs">KGS0067</text>
<path d="M27.7 430.29999999999995V433.5M27.7 431.9H40.1M40.1 430.29999999999995V433.5" stroke="#606060" stroke-width="0.75" fill="none"/>
<text x="33.9" y="429.9" font-size="4.2" fill="#4a4a4a" text-anchor="middle" font-weight="normal" textLength="11.6" lengthAdjust="spacingAndGlyphs">Ø6.4</text>
<path d="M91.4 410.3H102.4Q104.9 410.3 104.9 413.3V415.3Q104.9 418.3 103.60000000000001 419.3V425.7H90.2V419.3Q88.9 418.3 88.9 415.3V413.3Q88.9 410.3 91.4 410.3Z" fill="url(#pinkD)"/>
<circle cx="97.9" cy="414.8" r="0.9" fill="#6a3058"/>
<text x="96.9" y="407.5" font-size="3.9" fill="#787878" text-anchor="middle" font-weight="bold" textLength="23.8" lengthAdjust="spacingAndGlyphs">KGS0068</text>
<path d="M90.9 430.29999999999995V433.5M90.9 431.9H102.9M102.9 430.29999999999995V433.5" stroke="#606060" stroke-width="0.75" fill="none"/>
<text x="96.9" y="429.9" font-size="4.2" fill="#4a4a4a" text-anchor="middle" font-weight="normal" textLength="5.8" lengthAdjust="spacingAndGlyphs">Ø8</text>
<path d="M152.4 410.3H163.89999999999998Q165.7 410.3 165.7 412.8V425.7H150.6V412.8Q150.6 410.3 152.4 410.3Z" fill="url(#pinkL)"/>
<circle cx="159.14999999999998" cy="414.8" r="0.9" fill="#6a3058"/>
<text x="158.14999999999998" y="407.5" font-size="3.9" fill="#787878" text-anchor="middle" font-weight="bold" textLength="23.8" lengthAdjust="spacingAndGlyphs">KGS0069</text>
<path d="M152.6 430.29999999999995V433.5M152.6 431.9H163.7M163.7 430.29999999999995V433.5" stroke="#606060" stroke-width="0.75" fill="none"/>
<text x="158.14999999999998" y="429.9" font-size="4.2" fill="#4a4a4a" text-anchor="middle" font-weight="normal" textLength="11.6" lengthAdjust="spacingAndGlyphs">Ø9.5</text>
<path d="M208.10000000000002 410.3H222.2Q224 410.3 224 412.8V425.7H206.3V412.8Q206.3 410.3 208.10000000000002 410.3Z" fill="url(#rose)"/>
<circle cx="216.15" cy="414.8" r="0.9" fill="#6a3058"/>
<text x="215.15" y="407.5" font-size="3.9" fill="#787878" text-anchor="middle" font-weight="bold" textLength="23.8" lengthAdjust="spacingAndGlyphs">KGS0065</text>
<path d="M208.3 430.29999999999995V433.5M208.3 431.9H222M222 430.29999999999995V433.5" stroke="#606060" stroke-width="0.75" fill="none"/>
<text x="215.15" y="429.9" font-size="4.2" fill="#4a4a4a" text-anchor="middle" font-weight="normal" textLength="8.7" lengthAdjust="spacingAndGlyphs">Ø11</text>
<path d="M267.6 410.3H281.09999999999997Q282.9 410.3 282.9 412.8V425.7H265.8V412.8Q265.8 410.3 267.6 410.3Z" fill="url(#rose)"/>
<circle cx="275.35" cy="414.8" r="0.9" fill="#6a3058"/>
<text x="274.35" y="407.5" font-size="3.9" fill="#787878" text-anchor="middle" font-weight="bold" textLength="23.8" lengthAdjust="spacingAndGlyphs">KGS0061</text>
<path d="M267.8 430.29999999999995V433.5M267.8 431.9H280.9M280.9 430.29999999999995V433.5" stroke="#606060" stroke-width="0.75" fill="none"/>
<text x="274.35" y="429.9" font-size="4.2" fill="#4a4a4a" text-anchor="middle" font-weight="normal" textLength="14.5" lengthAdjust="spacingAndGlyphs">Ø12.5</text>
<path d="M328.6 410.3H343.3Q345.1 410.3 345.1 412.8V425.7H326.8V412.8Q326.8 410.3 328.6 410.3Z" fill="url(#rose)"/>
<circle cx="336.95000000000005" cy="414.8" r="0.9" fill="#6a3058"/>
<text x="335.95000000000005" y="407.5" font-size="3.9" fill="#787878" text-anchor="middle" font-weight="bold" textLength="23.8" lengthAdjust="spacingAndGlyphs">KGS0062</text>
<path d="M328.8 430.29999999999995V433.5M328.8 431.9H343.1M343.1 430.29999999999995V433.5" stroke="#606060" stroke-width="0.75" fill="none"/>
<text x="335.95000000000005" y="429.9" font-size="4.2" fill="#4a4a4a" text-anchor="middle" font-weight="normal" textLength="8.7" lengthAdjust="spacingAndGlyphs">Ø16</text>
<path d="M357.4 410.4H362.0M359.7 410.4V425.5M357.4 425.5H362.0" stroke="#6a6a6a" stroke-width="1" fill="none"/>
<text x="354.2" y="417.95" font-size="4.4" fill="#505050" text-anchor="middle" transform="rotate(-90 354.2 417.95)" dy="1.5">30</text>
<path d="M30.4 441.3H41.4Q43.9 441.3 43.9 444.3V448.5Q43.9 451.5 39.8 452.0V464.8H31.5V452.0Q27.9 451.5 27.9 448.5V444.3Q27.9 441.3 30.4 441.3Z" fill="url(#lav)"/>
<circle cx="34.9" cy="445.3" r="0.7" fill="#6a3050"/>
<text x="35.9" y="439.8" font-size="3.9" fill="#787878" text-anchor="middle" font-weight="bold" textLength="23.8" lengthAdjust="spacingAndGlyphs">KGS0045</text>
<path d="M30.5 468.79999999999995V472.0M30.5 470.4H40.8M40.8 468.79999999999995V472.0" stroke="#606060" stroke-width="0.75" fill="none"/>
<text x="35.65" y="468.4" font-size="4.2" fill="#4a4a4a" text-anchor="middle" font-weight="normal" textLength="5.8" lengthAdjust="spacingAndGlyphs">Ø4</text>
<path d="M87.9 441.3H100.9Q103.4 441.3 103.4 444.3V448.5Q103.4 451.5 99.2 452.0V464.8H90.3V452.0Q85.4 451.5 85.4 448.5V444.3Q85.4 441.3 87.9 441.3Z" fill="url(#pinkD)"/>
<circle cx="93.4" cy="445.3" r="0.7" fill="#6a3050"/>
<text x="94.4" y="439.8" font-size="3.9" fill="#787878" text-anchor="middle" font-weight="bold" textLength="23.8" lengthAdjust="spacingAndGlyphs">KGS0041</text>
<path d="M89.3 468.79999999999995V472.0M89.3 470.4H100.2M100.2 468.79999999999995V472.0" stroke="#606060" stroke-width="0.75" fill="none"/>
<text x="94.75" y="468.4" font-size="4.2" fill="#4a4a4a" text-anchor="middle" font-weight="normal" textLength="11.6" lengthAdjust="spacingAndGlyphs">Ø4.5</text>
<path d="M147.9 441.3H157.5Q160 441.3 160 444.3V448.5Q160 451.5 157.2 452.0V464.8H147.8V452.0Q145.4 451.5 145.4 448.5V444.3Q145.4 441.3 147.9 441.3Z" fill="url(#pinkL)"/>
<circle cx="151.7" cy="445.3" r="0.7" fill="#6a3050"/>
<text x="152.7" y="439.8" font-size="3.9" fill="#787878" text-anchor="middle" font-weight="bold" textLength="23.8" lengthAdjust="spacingAndGlyphs">KGS0042</text>
<path d="M146.8 468.79999999999995V472.0M146.8 470.4H158.2M158.2 468.79999999999995V472.0" stroke="#606060" stroke-width="0.75" fill="none"/>
<text x="152.5" y="468.4" font-size="4.2" fill="#4a4a4a" text-anchor="middle" font-weight="normal" textLength="5.8" lengthAdjust="spacingAndGlyphs">Ø4</text>
<path d="M201.5 442H214.2Q215.6 442 215.6 444L215 465.3H200.6L200 444Q200 442 201.5 442Z" fill="url(#pinkD)"/>
<circle cx="208.5" cy="453" r="0.8" fill="#5a2048"/>
<text x="209" y="439.8" font-size="3.9" fill="#787878" text-anchor="middle" font-weight="bold" textLength="23.8" lengthAdjust="spacingAndGlyphs">KGS0043</text>
<path d="M201 468.79999999999995V472.0M201 470.4H214M214 468.79999999999995V472.0" stroke="#606060" stroke-width="0.75" fill="none"/>
<text x="207.5" y="468.4" font-size="4.2" fill="#4a4a4a" text-anchor="middle" font-weight="normal" textLength="11.6" lengthAdjust="spacingAndGlyphs">Ø4.5</text>
<path d="M228.7 442H233.3M231 442V465.5M228.7 465.5H233.3" stroke="#6a6a6a" stroke-width="1" fill="none"/>
<text x="225.5" y="453.75" font-size="4.4" fill="#505050" text-anchor="middle" transform="rotate(-90 225.5 453.75)" dy="1.5">42</text>
<path d="M31 483.5H39.2Q42.2 483.5 42.2 487.0Q42.2 491 40 492V516.5H29.7V492Q28 491 28 487.0Q28 483.5 31 483.5Z" fill="url(#pinkD)"/>
<circle cx="34.1" cy="487.5" r="0.8" fill="#5a2048"/>
<text x="35.1" y="481" font-size="3.9" fill="#787878" text-anchor="middle" font-weight="bold" textLength="23.8" lengthAdjust="spacingAndGlyphs">KGS0050</text>
<path d="M29.7 520.4V523.6M29.7 522H40M40 520.4V523.6" stroke="#606060" stroke-width="0.75" fill="none"/>
<text x="34.85" y="520.0" font-size="4.2" fill="#4a4a4a" text-anchor="middle" font-weight="normal" textLength="5.8" lengthAdjust="spacingAndGlyphs">Ø4</text>
<path d="M88 483.5H97Q100 483.5 100 487.0Q100 491 98.6 492V516.5H88.6V492Q85 491 85 487.0Q85 483.5 88 483.5Z" fill="url(#pinkM)"/>
<circle cx="91.5" cy="487.5" r="0.8" fill="#5a2048"/>
<text x="92.5" y="481" font-size="3.9" fill="#787878" text-anchor="middle" font-weight="bold" textLength="23.8" lengthAdjust="spacingAndGlyphs">KGS0026</text>
<path d="M88.6 520.4V523.6M88.6 522H98.6M98.6 520.4V523.6" stroke="#606060" stroke-width="0.75" fill="none"/>
<text x="93.6" y="520.0" font-size="4.2" fill="#4a4a4a" text-anchor="middle" font-weight="normal" textLength="11.6" lengthAdjust="spacingAndGlyphs">Ø4.5</text>
<path d="M147.1 483.5H155.8Q158.8 483.5 158.8 487.0Q158.8 491 156 492V516.5H145.4V492Q144.1 491 144.1 487.0Q144.1 483.5 147.1 483.5Z" fill="url(#pinkM)"/>
<circle cx="150.45" cy="487.5" r="0.8" fill="#5a2048"/>
<text x="151.45" y="481" font-size="3.9" fill="#787878" text-anchor="middle" font-weight="bold" textLength="23.8" lengthAdjust="spacingAndGlyphs">KGS0027</text>
<path d="M145.4 520.4V523.6M145.4 522H156M156 520.4V523.6" stroke="#606060" stroke-width="0.75" fill="none"/>
<text x="150.7" y="520.0" font-size="4.2" fill="#4a4a4a" text-anchor="middle" font-weight="normal" textLength="5.8" lengthAdjust="spacingAndGlyphs">Ø4</text>
<path d="M208.3 483.5H217Q220 483.5 220 487.0Q220 491 218 492V516.5H207V492Q205.3 491 205.3 487.0Q205.3 483.5 208.3 483.5Z" fill="url(#rose)"/>
<circle cx="211.65" cy="487.5" r="0.8" fill="#5a2048"/>
<text x="212.65" y="481" font-size="3.9" fill="#787878" text-anchor="middle" font-weight="bold" textLength="23.8" lengthAdjust="spacingAndGlyphs">KGS0028</text>
<path d="M207 520.4V523.6M207 522H218M218 520.4V523.6" stroke="#606060" stroke-width="0.75" fill="none"/>
<text x="212.5" y="520.0" font-size="4.2" fill="#4a4a4a" text-anchor="middle" font-weight="normal" textLength="11.6" lengthAdjust="spacingAndGlyphs">Ø4.5</text>
<path d="M235.2 482H239.8M237.5 482V516.2M235.2 516.2H239.8" stroke="#6a6a6a" stroke-width="1" fill="none"/>
<text x="232.0" y="499.1" font-size="4.4" fill="#505050" text-anchor="middle" transform="rotate(-90 232.0 499.1)" dy="1.5">50</text>
<path d="M274.4 471.7H283.3Q286.3 471.7 286.3 475.2Q286.3 478 283.8 479V515.4H273.8V479Q271.4 478 271.4 475.2Q271.4 471.7 274.4 471.7Z" fill="url(#mauve)"/>
<circle cx="277.85" cy="475.7" r="0.8" fill="#5a2048"/>
<text x="279" y="468.5" font-size="3.9" fill="#787878" text-anchor="middle" font-weight="bold" textLength="23.8" lengthAdjust="spacingAndGlyphs">KGS0029</text>
<path d="M273 520.4V523.6M273 522H284M284 520.4V523.6" stroke="#606060" stroke-width="0.75" fill="none"/>
<text x="278.5" y="520.0" font-size="4.2" fill="#4a4a4a" text-anchor="middle" font-weight="normal" textLength="11.6" lengthAdjust="spacingAndGlyphs">Ø4.5</text>
<path d="M300.0 471.7H304.6M302.3 471.7V515.4M300.0 515.4H304.6" stroke="#6a6a6a" stroke-width="1" fill="none"/>
<text x="296.8" y="493.54999999999995" font-size="4.4" fill="#505050" text-anchor="middle" transform="rotate(-90 296.8 493.54999999999995)" dy="1.5">88</text></svg></body></html>
